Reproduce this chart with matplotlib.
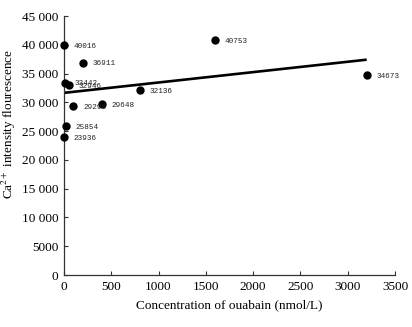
import numpy as np
import matplotlib
matplotlib.use("Agg")
import matplotlib.pyplot as plt
from matplotlib.ticker import FuncFormatter

plt.rcParams["mathtext.fontset"] = "stix"

# Ouabain concentration (nmol/L) and Ca2+ fluorescence intensity
concentration = [0.1, 1, 10, 25, 50, 100, 200, 400, 800, 1600, 3200]
intensity = [23936, 40016, 33442, 25854, 32946, 29298, 36911, 29648, 32136, 40753, 34673]
x_ticks = [0, 500, 1000, 1500, 2000, 2500, 3000, 3500]
y_ticks = [0, 5000, 10000, 15000, 20000, 25000, 30000, 35000, 40000, 45000]

serif = "Liberation Serif"

fig = plt.figure(figsize=(4.12, 3.27), dpi=100)
ax = fig.add_axes([0.155, 0.159, 0.804, 0.792])

ax.plot(concentration, intensity, "o", color="black", markersize=5, clip_on=False, zorder=3)

# least-squares trend line over the tested range
slope, intercept = np.polyfit(concentration, intensity, 1)
fit_x = np.array([0, max(concentration)])
ax.plot(fit_x, slope * fit_x + intercept, color="black", lw=1.9, solid_capstyle="butt")

for cx, cy in zip(concentration, intensity):
    ax.annotate(str(cy), (cx, cy), xytext=(7, -1), textcoords="offset points",
                fontsize=5.5, family="Liberation Mono", va="center", ha="left", color="#222222")

ax.set_xlim(0, 3500)
ax.set_ylim(0, 45000)
ax.set_xticks(x_ticks)
ax.set_yticks(y_ticks)


def fmt_y(v, _):
    v = int(v)
    if v >= 10000:
        return f"{v // 1000} {v % 1000:03d}"
    return str(v)


ax.yaxis.set_major_formatter(FuncFormatter(fmt_y))

for s in ("top", "right"):
    ax.spines[s].set_visible(False)
for s in ("left", "bottom"):
    ax.spines[s].set_linewidth(0.9)
    ax.spines[s].set_color("#333333")

ax.tick_params(direction="in", length=3, width=0.8, colors="#333333", labelsize=9.5,
               labelcolor="black", pad=4)
for lab in ax.get_xticklabels() + ax.get_yticklabels():
    lab.set_family(serif)

ax.set_xlabel("Concentration of ouabain (nmol/L)", family=serif, fontsize=9.5, labelpad=5)
ax.set_ylabel(r"Ca$^{2+}$ intensity flourescence", family=serif, fontsize=9.5)
ax.yaxis.set_label_coords(-0.139, 0.583)

fig.savefig("out.png", dpi=100)
